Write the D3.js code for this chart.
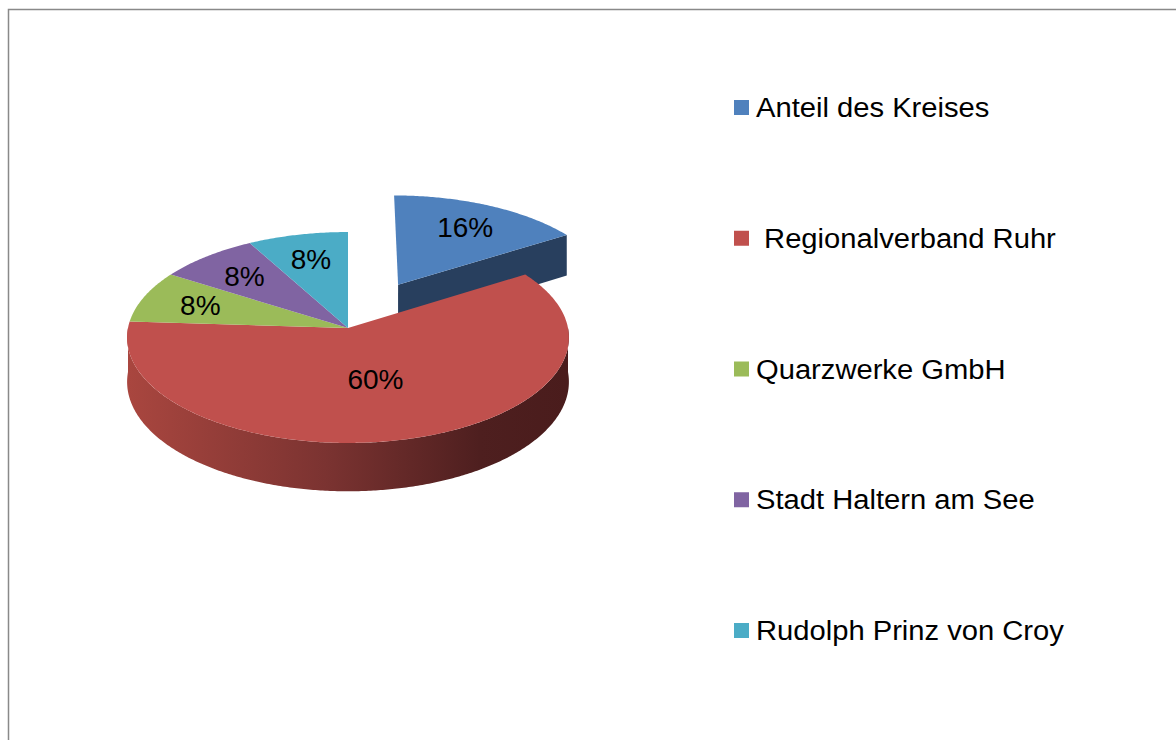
<!DOCTYPE html>
<html>
<head>
<meta charset="utf-8">
<script src="https://cdn.jsdelivr.net/npm/d3@7"></script>
<style>
  body { margin: 0; background: #fff; }
  svg { display: block; font-family: "Liberation Sans", Arial, sans-serif; }
  text { white-space: pre; }
</style>
</head>
<body>
<script>
var width = 1176,
    height = 740;

// chart data
var categories = ['Anteil des Kreises', ' Regionalverband Ruhr', 'Quarzwerke GmbH', 'Stadt Haltern am See', 'Rudolph Prinz von Croy'];
var shares = [0.16, 0.60, 0.08, 0.08, 0.08];
var labels = ['16%', '60%', '8%', '8%', '8%'];
var exploded = [true, false, false, false, false];

var topColors = ['#4f81bd', '#c0504d', '#9bbb59', '#8064a2', '#4bacc6'];
var wallColors = ['#283f5e', '#7a3232', '#5d7035', '#4c3c61', '#2d6776'];

var svg = d3.select('body').append('svg')
    .attr('width', width)
    .attr('height', height);

// outer frame
svg.append('path')
    .attr('d', 'M8.5,' + height + 'V9.5H' + width)
    .attr('fill', 'none')
    .attr('stroke', '#898989')
    .attr('stroke-width', 1.5);

// 3d projection of the pie plane
var cx = 348, cy = 328,
    R = 220,
    k = 0.4755,          // vertical squash
    D = R / 0.09,        // camera distance
    depth = 44,
    explode = 108;

function proj(X, Z, h) {
  var s = D / (D - Z);
  return [cx + X * s, cy + (Z * k + h) * s];
}
function planePt(theta, r, off) {
  return [off[0] + r * Math.sin(theta), off[1] - r * Math.cos(theta)];
}
function arcPts(a0, a1, off, h) {
  var n = Math.max(2, Math.ceil((a1 - a0) / 0.01)), pts = [];
  for (var i = 0; i <= n; i++) {
    var p = planePt(a0 + (a1 - a0) * i / n, R, off);
    pts.push(proj(p[0], p[1], h));
  }
  return pts;
}

var pie = d3.pie().sort(null).value(function(d) { return d; });
var arcs = pie(shares).map(function(a, i) {
  var mid = (a.startAngle + a.endAngle) / 2;
  a.off = exploded[i] ? [explode * Math.sin(mid), -explode * Math.cos(mid)] : [0, 0];
  a.mid = mid;
  a.i = i;
  return a;
});

var line = d3.line().curve(d3.curveLinearClosed);

// gradient for the front wall
var defs = svg.append('defs');
var grad = defs.append('linearGradient')
    .attr('id', 'wallGrad')
    .attr('gradientUnits', 'userSpaceOnUse')
    .attr('x1', cx - R).attr('x2', cx + R)
    .attr('y1', 0).attr('y2', 0);
grad.append('stop').attr('offset', 0).attr('stop-color', '#a9463f');
grad.append('stop').attr('offset', 0.45).attr('stop-color', '#7b3331');
grad.append('stop').attr('offset', 0.8).attr('stop-color', '#4e1f1f');
grad.append('stop').attr('offset', 1).attr('stop-color', '#4a1c1c');

var g = svg.append('g');

// radial walls visible at the end of exploded slices
arcs.filter(function(a) { return exploded[a.i]; }).forEach(function(a) {
  var tip = planePt(a.endAngle, R, a.off);
  var pts = [
    proj(a.off[0], a.off[1], 0),
    proj(tip[0], tip[1], 0),
    proj(tip[0], tip[1], depth),
    proj(a.off[0], a.off[1], depth)
  ];
  g.append('path').attr('d', line(pts)).attr('fill', wallColors[a.i]);
});

// outer walls facing the viewer (90deg .. 270deg)
arcs.forEach(function(a) {
  var s = Math.max(a.startAngle, Math.PI / 2),
      e = Math.min(a.endAngle, Math.PI * 1.5);
  if (e <= s) return;
  var topArc = arcPts(s, e, a.off, 0),
      botArc = arcPts(s, e, a.off, depth).reverse();
  g.append('path')
    .attr('d', line(topArc.concat(botArc)))
    .attr('fill', a.i === 1 ? 'url(#wallGrad)' : wallColors[a.i]);
});

// top faces
arcs.forEach(function(a) {
  var pts = [proj(a.off[0], a.off[1], 0)].concat(arcPts(a.startAngle, a.endAngle, a.off, 0));
  g.append('path')
    .attr('d', line(pts))
    .attr('fill', topColors[a.i]);
});

// data labels
arcs.forEach(function(a) {
  var f = a.value > 0.5 ? 0.48 : 0.72;
  var p = planePt(a.mid, R * f, a.off);
  var q = proj(p[0], p[1], 0);
  g.append('text')
    .attr('x', q[0])
    .attr('y', q[1])
    .attr('dy', '0.36em')
    .attr('text-anchor', 'middle')
    .attr('font-size', 28)
    .attr('fill', '#000')
    .text(labels[a.i]);
});

// legend
var legend = svg.append('g')
  .selectAll('g')
  .data(categories)
  .enter().append('g')
    .attr('transform', function(d, i) { return 'translate(734,' + (117 + i * 130.75) + ')'; });

legend.append('rect')
    .attr('x', 0)
    .attr('y', -17)
    .attr('width', 15)
    .attr('height', 15)
    .attr('fill', function(d, i) { return topColors[i]; });

legend.append('text')
    .attr('transform', 'translate(22,0) scale(1.08,1)')
    .attr('font-size', 27)
    .attr('fill', '#000')
    .text(function(d) { return d; });
</script>
</body>
</html>
